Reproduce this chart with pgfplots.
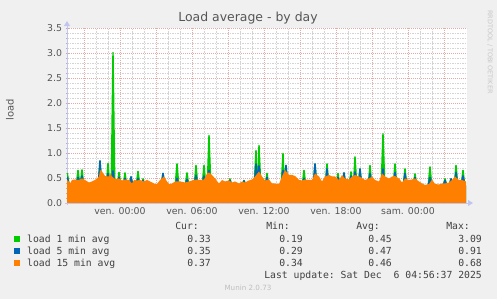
\documentclass[border=0pt]{standalone}
\usepackage{fontspec}
\setmainfont{DejaVu Sans}
\setmonofont{DejaVu Sans Mono}
\usepackage{pgfplots}
\usepackage{pgfplotstable}
\pgfplotsset{compat=1.18}
\usetikzlibrary{arrows.meta}
\definecolor{bg}{HTML}{F0F0F0}
\definecolor{lgreen}{HTML}{00CC00}
\definecolor{lblue}{HTML}{0066B3}
\definecolor{lorange}{HTML}{FF8000}
\definecolor{mgrid}{HTML}{E8A8A8}
\definecolor{sgrid}{HTML}{D4D4D4}
\definecolor{axcol}{HTML}{C4C4F0}
\definecolor{txt}{HTML}{555555}
\definecolor{ltxt}{HTML}{404040}

% x in 5-minute steps, 0 = ven. 00:00
\pgfplotstableread{
x v
-53 0.46
-51 0.43
-50 0.39
-48 0.46
-45 0.47
-41 0.46
-38 0.49
-35 0.46
-31 0.41
-28 0.43
-25 0.46
-21 0.53
-20 0.66
-18 0.63
-15 0.54
-11 0.53
-10 0.59
-8 0.53
-5 0.48
-1 0.49
2 0.45
5 0.47
9 0.46
12 0.39
14 0.46
17 0.45
20 0.46
24 0.43
27 0.46
30 0.43
34 0.39
37 0.38
40 0.46
44 0.53
47 0.43
49 0.38
52 0.39
55 0.43
60 0.43
65 0.41
69 0.43
74 0.46
77 0.47
80 0.46
84 0.47
87 0.59
89 0.61
92 0.56
95 0.49
99 0.39
102 0.46
105 0.43
109 0.45
112 0.41
115 0.43
119 0.39
122 0.43
125 0.41
129 0.45
132 0.47
135 0.53
139 0.63
142 0.53
145 0.45
149 0.47
152 0.39
155 0.39
159 0.38
162 0.53
165 0.66
169 0.56
172 0.56
175 0.54
179 0.46
182 0.45
185 0.47
189 0.46
192 0.46
195 0.59
199 0.53
202 0.43
205 0.53
209 0.56
212 0.53
215 0.53
219 0.46
222 0.56
225 0.49
229 0.47
232 0.53
235 0.56
239 0.53
242 0.50
245 0.46
249 0.49
252 0.53
255 0.46
259 0.43
262 0.59
265 0.53
269 0.49
272 0.53
275 0.54
279 0.49
282 0.41
285 0.49
289 0.46
292 0.47
295 0.49
299 0.43
302 0.39
305 0.36
309 0.38
312 0.47
315 0.38
319 0.37
322 0.39
325 0.39
329 0.41
332 0.46
335 0.53
339 0.46
342 0.46
346 0.43
}\orangedata

\pgfplotstableread{
x g b
-53 0.60 0.52
-52 0.60 0.52
-50 0.35 0.35
-44.5 0.35 0.35
-42.7 0.66 0.52
-41.3 0.66 0.52
-40 0.45 0.45
-38.7 0.67 0.55
-37.3 0.67 0.55
-35.5 0.35 0.35
-22.5 0.35 0.35
-20.7 0.85 0.85
-19.3 0.85 0.85
-17.5 0.35 0.35
-14.5 0.35 0.35
-12.7 0.80 0.60
-11.3 0.80 0.60
-9.5 0.35 0.35
-9.4 0.35 0.35
-7.7 3.02 0.65
-6.3 3.02 0.65
-4.5 0.35 0.35
-3.5 0.35 0.35
-1.7 0.62 0.52
-0.3 0.62 0.52
1.5 0.35 0.35
2.5 0.35 0.35
4.3 0.61 0.50
5.7 0.61 0.50
7.5 0.35 0.35
8.5 0.35 0.35
10.3 0.53 0.53
11.7 0.53 0.53
13.5 0.35 0.35
15.5 0.35 0.35
17.3 0.64 0.50
18.7 0.64 0.50
20.5 0.35 0.35
20.6 0.35 0.35
22.3 0.49 0.46
23.7 0.49 0.46
25.5 0.35 0.35
40.5 0.35 0.35
42.3 0.60 0.60
43.7 0.60 0.60
45.5 0.35 0.35
54.5 0.35 0.35
56.3 0.79 0.50
57.7 0.79 0.50
59.5 0.35 0.35
64.5 0.35 0.35
66.3 0.61 0.48
67.7 0.61 0.48
69.5 0.35 0.35
73.5 0.35 0.35
75.3 0.76 0.56
76.7 0.76 0.56
78.5 0.35 0.35
81.5 0.35 0.35
83.3 0.76 0.55
84.7 0.76 0.55
86.5 0.35 0.35
86.6 0.35 0.35
88.3 1.36 0.66
89.7 1.36 0.66
91.5 0.35 0.35
107.5 0.35 0.35
109.3 0.49 0.46
110.7 0.49 0.46
112.5 0.35 0.35
121.5 0.35 0.35
123.3 0.46 0.45
124.7 0.46 0.45
126.5 0.35 0.35
133.5 0.35 0.35
135.3 1.06 0.79
136.7 1.06 0.79
137.5 0.60 0.60
138.3 1.16 0.75
139.7 1.16 0.75
141.5 0.35 0.35
144.5 0.35 0.35
146.3 0.60 0.52
147.7 0.60 0.52
149.5 0.35 0.35
160.5 0.35 0.35
162.3 1.00 0.66
163.7 1.00 0.66
164.5 0.60 0.60
165.3 0.76 0.76
166.7 0.76 0.76
168.5 0.35 0.35
181.5 0.35 0.35
183.3 0.66 0.50
184.7 0.66 0.50
186.5 0.35 0.35
192.5 0.35 0.35
194.3 0.79 0.79
195.7 0.79 0.79
197.5 0.35 0.35
204.5 0.35 0.35
206.3 0.79 0.69
207.7 0.79 0.69
209.5 0.35 0.35
215.5 0.35 0.35
217.3 0.60 0.52
218.7 0.60 0.52
220.5 0.35 0.35
221.5 0.35 0.35
223.3 0.61 0.61
224.7 0.61 0.61
226.5 0.35 0.35
228.5 0.35 0.35
230.3 0.63 0.55
231.7 0.63 0.55
233 0.45 0.45
234.3 0.93 0.63
235.7 0.93 0.63
237.5 0.35 0.35
237.6 0.35 0.35
239.3 0.69 0.69
240.7 0.69 0.69
242.5 0.35 0.35
247.5 0.35 0.35
249.3 0.76 0.60
250.7 0.76 0.60
252.5 0.35 0.35
260.5 0.35 0.35
262.3 1.39 0.69
263.7 1.39 0.69
265.5 0.35 0.35
272.5 0.35 0.35
274.3 0.79 0.62
275.7 0.79 0.62
277.5 0.35 0.35
282.5 0.35 0.35
284.3 0.69 0.60
285.7 0.69 0.60
287.5 0.35 0.35
292.5 0.35 0.35
294.3 0.59 0.52
295.7 0.59 0.52
297.5 0.35 0.35
307.5 0.35 0.35
309.3 0.73 0.52
310.7 0.73 0.52
312.5 0.35 0.35
322.5 0.35 0.35
324.3 0.49 0.46
325.7 0.49 0.46
327.5 0.35 0.35
328.5 0.35 0.35
330.3 0.49 0.49
331.7 0.49 0.49
333.5 0.35 0.35
333.6 0.35 0.35
335.3 0.76 0.62
336.7 0.76 0.62
338.5 0.35 0.35
340.5 0.35 0.35
342.3 0.66 0.55
343.7 0.66 0.55
345.5 0.35 0.35
346 0.35 0.35
}\spikedata

\begin{document}
\begin{tikzpicture}
\useasboundingbox (0,0) rectangle (497bp,299bp);
\fill[bg] (0,0) rectangle (497bp,299bp);
\begin{axis}[
  at={(67bp,96bp)}, anchor=south west,
  scale only axis, width=400bp, height=175bp,
  xmin=-53, xmax=347, ymin=0, ymax=3.5,
  axis lines=left,
  axis line style={axcol, line width=0.9bp},
  x axis line style={-{Triangle[length=5bp,width=6bp]}, shorten >=-6bp, shorten <=-2bp},
  y axis line style={-{Triangle[length=5bp,width=6bp]}, shorten >=-7bp, shorten <=-2bp},
  axis background/.style={fill=white},
  xtick={-36,0,...,324},
  xticklabels={,ven. 00:00,,ven. 06:00,,ven. 12:00,,ven. 18:00,,sam. 00:00,},
  minor x tick num=2,
  ytick={0,0.5,...,3.5},
  minor y tick num=4,
  grid=both,
  major grid style={mgrid, dash pattern=on 1bp off 1bp, line width=0.6bp},
  minor grid style={sgrid, dash pattern=on 1.5bp off 1bp, line width=0.5bp},
  tick style={draw=gray!60, line width=0.5bp},
  major tick length=3bp, minor tick length=2bp, tick align=center,
  ticklabel style={font=\fontsize{9.4}{10}\selectfont, text=txt},
  yticklabel style={/pgf/number format/.cd, fixed, fixed zerofill, precision=1},
  /pgf/number format/assume math mode=true,
  clip=true,
]
\addplot[fill=lgreen, draw=none] table[x=x, y=g] {\spikedata} \closedcycle;
\addplot[fill=lblue, draw=none] table[x=x, y=b] {\spikedata} \closedcycle;
\addplot[fill=lorange, draw=none] table[x=x, y=v] {\orangedata} \closedcycle;
\end{axis}

\node[font=\fontsize{12.5}{14}\selectfont, text=txt] at (248bp,281bp) {Load average - by day};
\node[font=\fontsize{6.5}{7}\selectfont, text=black!22, rotate=-90] at (490bp,247bp) {RRDTOOL / TOBI OETIKER};
\node[font=\fontsize{10}{11}\selectfont, text=txt, rotate=90] at (10bp,189bp) {load};

\begin{scope}[every node/.style={font=\ttfamily\fontsize{9.8}{11}\selectfont, text=ltxt, inner sep=0pt, text height=7bp, text depth=2bp}]
\node[anchor=east] at (199bp,72bp) {Cur:};
\node[anchor=east] at (290bp,72bp) {Min:};
\node[anchor=east] at (380bp,72bp) {Avg:};
\node[anchor=east] at (470bp,72bp) {Max:};
\fill[lgreen] (14bp,56.5bp) rectangle (20bp,62.5bp);
\node[anchor=west] at (27bp,59.4bp) {load 1 min avg};
\node[anchor=east] at (211bp,59.4bp) {0.33};
\node[anchor=east] at (303bp,59.4bp) {0.19};
\node[anchor=east] at (392bp,59.4bp) {0.45};
\node[anchor=east] at (482bp,59.4bp) {3.09};
\fill[lblue] (14bp,44.5bp) rectangle (20bp,50.5bp);
\node[anchor=west] at (27bp,47.4bp) {load 5 min avg};
\node[anchor=east] at (211bp,47.4bp) {0.35};
\node[anchor=east] at (303bp,47.4bp) {0.29};
\node[anchor=east] at (392bp,47.4bp) {0.47};
\node[anchor=east] at (482bp,47.4bp) {0.91};
\fill[lorange] (14bp,32.5bp) rectangle (20bp,38.5bp);
\node[anchor=west] at (27bp,35.4bp) {load 15 min avg};
\node[anchor=east] at (211bp,35.4bp) {0.37};
\node[anchor=east] at (303bp,35.4bp) {0.34};
\node[anchor=east] at (392bp,35.4bp) {0.46};
\node[anchor=east] at (482bp,35.4bp) {0.68};
\node[anchor=east] at (482bp,23.4bp) {Last update: Sat Dec~~6 04:56:37 2025};
\end{scope}
\node[font=\fontsize{7.2}{8}\selectfont, text=black!25] at (248bp,11bp) {Munin 2.0.73};
\end{tikzpicture}
\end{document}
